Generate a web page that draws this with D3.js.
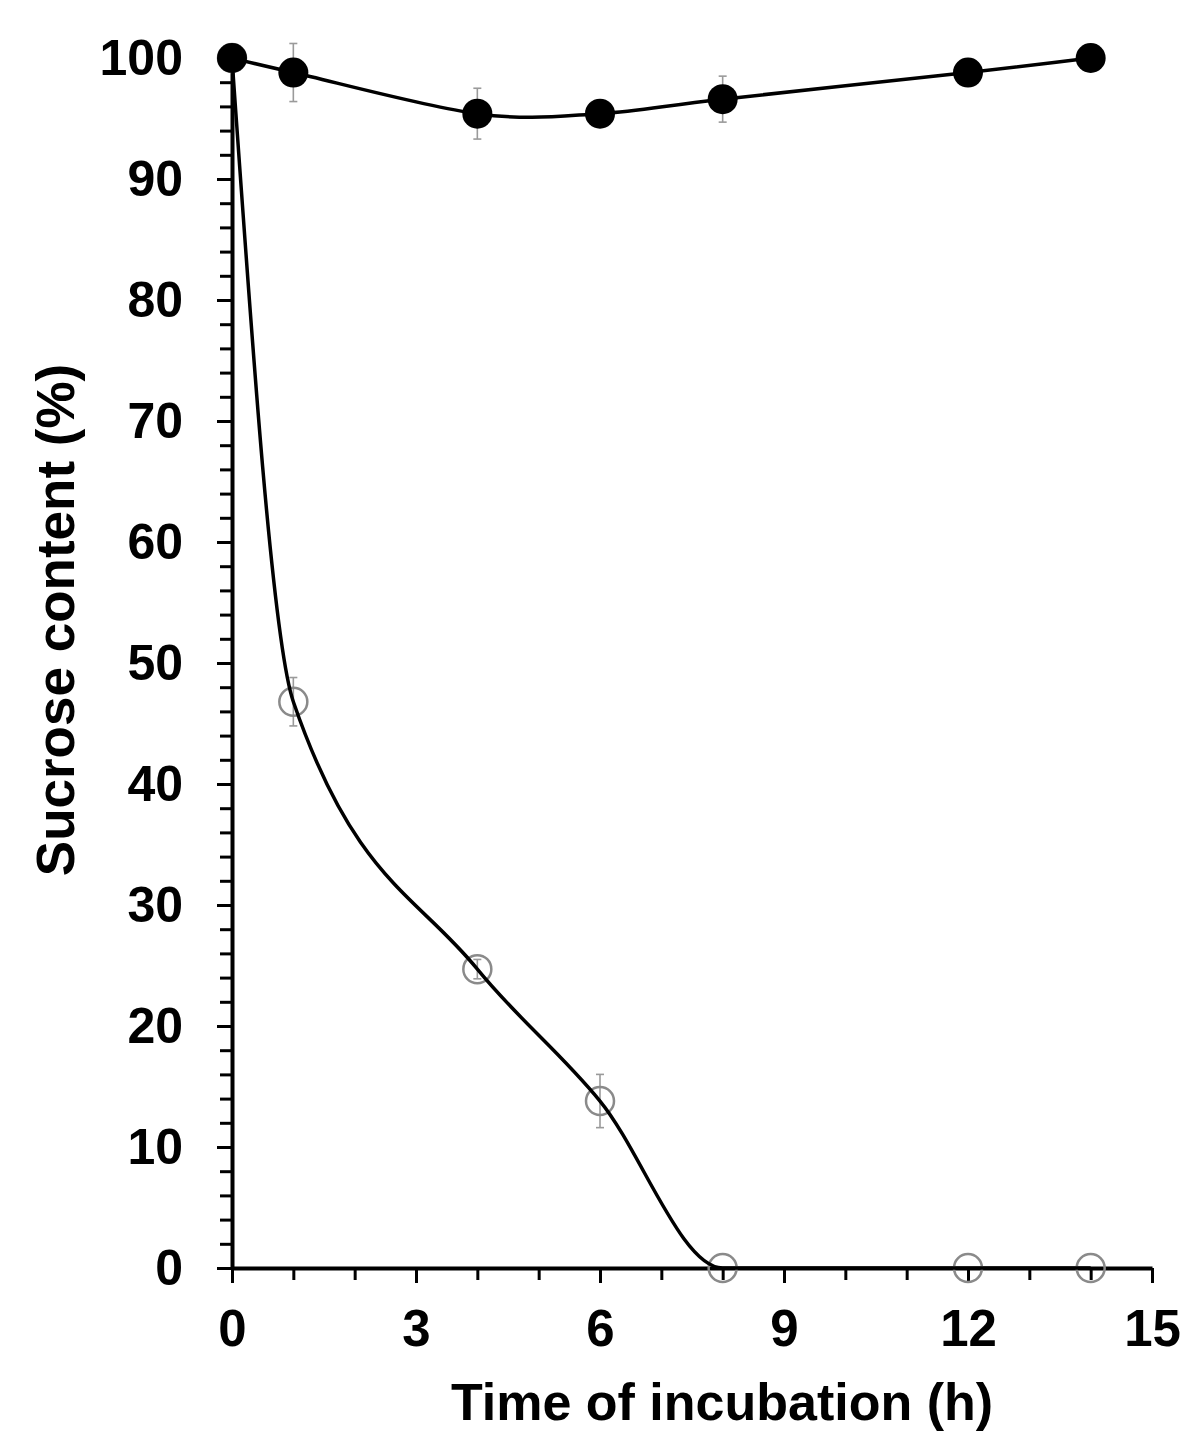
<!DOCTYPE html>
<html>
<head>
<meta charset="utf-8">
<script src="https://cdn.jsdelivr.net/npm/d3@7"></script>
<style>
  body { margin: 0; background: #fff; }
  svg text { font-family: "Liberation Sans", Arial, sans-serif; font-weight: bold; fill: #000; }
</style>
</head>
<body>
<div id="viz"></div>
<script>
// incubation time (h)
const hours = [0, 1, 4, 6, 8, 12, 14];
// control (filled markers)
const controlPct = [100, 98.8, 95.4, 95.4, 96.6, 98.8, 100];
const controlErr = [0, 2.4, 2.1, 0.8, 1.9, 0, 0];
// treated (open markers)
const treatedPct = [100, 46.8, 24.7, 13.8, 0, 0, 0];
const treatedErr = [0, 2.0, 0.8, 2.2, 0, 0, 0];

const xMajor = [0, 3, 6, 9, 12, 15];
const yMajor = [0, 10, 20, 30, 40, 50, 60, 70, 80, 90, 100];

let width = 1197;
let height = 1455;

let svg = d3.select("#viz").append("svg")
  .attr("width", width)
  .attr("height", height);

let xScale = d3.scaleLinear().domain([0, 15]).range([232, 1152]);
let yScale = d3.scaleLinear().domain([0, 100]).range([1268, 58]);

let control = hours.map((h, i) => ({ x: h, y: controlPct[i], e: controlErr[i] }));
let treated = hours.map((h, i) => ({ x: h, y: treatedPct[i], e: treatedErr[i] }));

// minor ticks
svg.append("g")
  .attr("transform", `translate(0,${yScale(0)})`)
  .call(d3.axisBottom(xScale).tickValues(d3.range(0, 16, 1)).tickSize(12).tickSizeOuter(0).tickFormat(""))
  .call(g => g.select(".domain").remove())
  .call(g => g.selectAll("line").attr("stroke-width", 3));

svg.append("g")
  .attr("transform", `translate(${xScale(0)},0)`)
  .call(d3.axisLeft(yScale).tickValues(d3.range(0, 101, 2)).tickSize(12).tickSizeOuter(0).tickFormat(""))
  .call(g => g.select(".domain").remove())
  .call(g => g.selectAll("line").attr("stroke-width", 3));

// major ticks + labels
svg.append("g")
  .attr("transform", `translate(0,${yScale(0)})`)
  .call(d3.axisBottom(xScale).tickValues(xMajor).tickSize(15).tickSizeOuter(0).tickPadding(27).tickFormat(d3.format("d")))
  .call(g => g.select(".domain").attr("stroke-width", 4).attr("stroke", "#000"))
  .call(g => g.selectAll("line").attr("stroke-width", 3))
  .call(g => g.selectAll("text").style("font-size", "51px").attr("font-family", null));

svg.append("g")
  .attr("transform", `translate(${xScale(0)},0)`)
  .call(d3.axisLeft(yScale).tickValues(yMajor).tickSize(15).tickSizeOuter(0).tickPadding(34).tickFormat(d3.format("d")))
  .call(g => g.select(".domain").attr("stroke-width", 4).attr("stroke", "#000"))
  .call(g => g.selectAll("line").attr("stroke-width", 3))
  .call(g => g.selectAll("text").style("font-size", "50px").attr("font-family", null));

// error bars
function errorBars(data, cls) {
  let g = svg.append("g").attr("class", cls)
    .attr("stroke", "#9a9a9a").attr("stroke-width", 1.6);
  let bars = data.filter(d => d.e > 0);
  g.selectAll(".v").data(bars).enter().append("line")
    .attr("x1", d => xScale(d.x)).attr("x2", d => xScale(d.x))
    .attr("y1", d => yScale(d.y + d.e)).attr("y2", d => yScale(d.y - d.e));
  g.selectAll(".t").data(bars).enter().append("line")
    .attr("x1", d => xScale(d.x) - 4).attr("x2", d => xScale(d.x) + 4)
    .attr("y1", d => yScale(d.y + d.e)).attr("y2", d => yScale(d.y + d.e));
  g.selectAll(".b").data(bars).enter().append("line")
    .attr("x1", d => xScale(d.x) - 4).attr("x2", d => xScale(d.x) + 4)
    .attr("y1", d => yScale(d.y - d.e)).attr("y2", d => yScale(d.y - d.e));
}
errorBars(treated, "err-treated");
errorBars(control, "err-control");

// open markers
svg.append("g")
  .selectAll("circle")
  .data(treated)
  .enter()
  .append("circle")
  .attr("cx", d => xScale(d.x))
  .attr("cy", d => yScale(d.y))
  .attr("r", 14)
  .attr("fill", "none")
  .attr("stroke", "#8a8a8a")
  .attr("stroke-width", 2.5);

let lineTreated = d3.line()
  .x(d => xScale(d.x))
  .y(d => yScale(d.y))
  .curve(d3.curveMonotoneX);

let lineControl = d3.line()
  .x(d => xScale(d.x))
  .y(d => yScale(d.y))
  .curve(d3.curveCardinal);

svg.append("path")
  .datum(treated)
  .attr("fill", "none")
  .attr("stroke", "#000")
  .attr("stroke-width", 3.5)
  .attr("d", lineTreated);

svg.append("path")
  .datum(control)
  .attr("fill", "none")
  .attr("stroke", "#000")
  .attr("stroke-width", 3.5)
  .attr("d", lineControl);

// filled markers
svg.append("g")
  .selectAll("circle")
  .data(control)
  .enter()
  .append("circle")
  .attr("cx", d => xScale(d.x))
  .attr("cy", d => yScale(d.y))
  .attr("r", 15)
  .attr("fill", "#000");

// axis titles
svg.append("text")
  .attr("x", 722)
  .attr("y", 1420)
  .style("text-anchor", "middle")
  .style("font-size", "52px")
  .text("Time of incubation (h)");

svg.append("text")
  .attr("transform", "translate(74,620) rotate(-90)")
  .style("text-anchor", "middle")
  .style("font-size", "53px")
  .text("Sucrose content (%)");
</script>
</body>
</html>
